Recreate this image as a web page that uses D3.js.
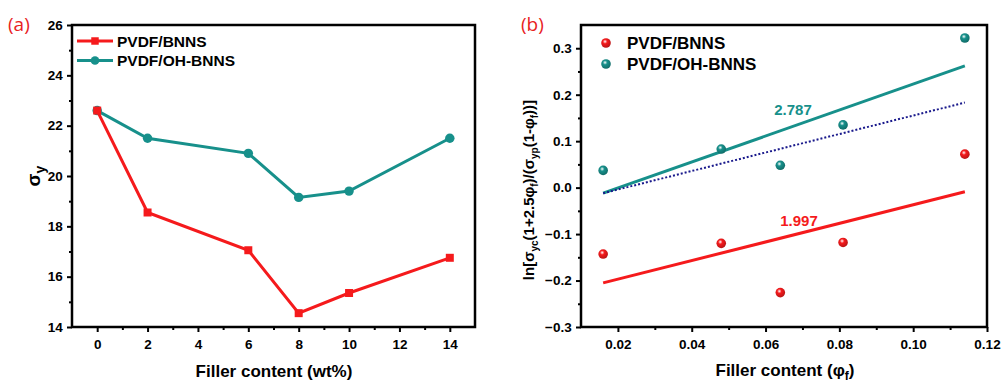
<!DOCTYPE html>
<html>
<head>
<meta charset="utf-8">
<script src="https://cdn.jsdelivr.net/npm/d3@7"></script>
<style>
  body { margin: 0; background: #fff; }
  svg text { font-family: "Liberation Sans", Arial, sans-serif; font-weight: bold; }
  svg text.tag { font-family: "Open Sans", sans-serif; font-weight: normal; }
</style>
</head>
<body>
<svg id="chart" width="1003" height="383"></svg>
<script>
// panel (a) data
var wtContent = [0, 2, 6, 8, 10, 14];
var sigmaBNNS = [22.6, 18.55, 17.05, 14.55, 15.35, 16.75];
var sigmaOH = [22.6, 21.5, 20.9, 19.15, 19.4, 21.5];
var xTicksA = [0, 2, 4, 6, 8, 10, 12, 14];
var yTicksA = [14, 16, 18, 20, 22, 24, 26];

// panel (b) data
var phiF = [0.016, 0.048, 0.064, 0.081, 0.114];
var lnBNNS = [-0.143, -0.120, -0.226, -0.118, 0.072];
var lnOH = [0.037, 0.083, 0.048, 0.135, 0.322];
var fitX = [0.016, 0.114];
var fitBNNS = [-0.205, -0.009];
var fitOH = [-0.012, 0.262];
var fitDotted = [-0.012, 0.183];
var xTicksB = [0.02, 0.04, 0.06, 0.08, 0.10, 0.12];
var yTicksB = [-0.3, -0.2, -0.1, 0.0, 0.1, 0.2, 0.3];

var red = '#f51a1c', teal = '#17908b', navy = '#1a1a8c';
var svg = d3.select('#chart');

var defs = svg.append('defs');
function ballGrad(id, c) {
    var g = defs.append('radialGradient').attr('id', id)
        .attr('cx', '40%').attr('cy', '35%').attr('r', '65%');
    g.append('stop').attr('offset', '0%').attr('stop-color', '#fff');
    g.append('stop').attr('offset', '35%').attr('stop-color', c);
    g.append('stop').attr('offset', '100%').attr('stop-color', d3.color(c).darker(0.8));
}
ballGrad('ballRed', red);
ballGrad('ballTeal', teal);

function frame(g, x0, x1, y0, y1) {
    g.append('rect').attr('x', x0).attr('y', y0)
        .attr('width', x1 - x0).attr('height', y1 - y0)
        .attr('fill', 'none').attr('stroke', '#000').attr('stroke-width', 2.5);
}

function axes(g, x, y, xt, yt, xMinor, yMinor, xFmt, yFmt) {
    var h = y.range()[0];
    var xa = g.append('g').attr('transform', 'translate(0,' + h + ')')
        .call(d3.axisBottom(x).tickValues(xt).tickSize(5).tickFormat(xFmt));
    g.append('g').attr('transform', 'translate(0,' + h + ')')
        .call(d3.axisBottom(x).tickValues(xMinor).tickSize(3).tickFormat(''));
    var ya = g.append('g').attr('transform', 'translate(' + x.range()[0] + ',0)')
        .call(d3.axisLeft(y).tickValues(yt).tickSize(5).tickFormat(yFmt));
    g.append('g').attr('transform', 'translate(' + x.range()[0] + ',0)')
        .call(d3.axisLeft(y).tickValues(yMinor).tickSize(3).tickFormat(''));
    g.selectAll('.domain').remove();
    g.selectAll('.tick line').attr('stroke', '#000').attr('stroke-width', 2);
    g.selectAll('.tick text').attr('font-size', 13.5).attr('fill', '#000')
        .attr('font-family', '"Liberation Sans", Arial, sans-serif');
    xa.selectAll('.tick text').attr('dy', '1.05em');
    ya.selectAll('.tick text').attr('dx', '-0.1em');
}

// ---------- panel (a)
var ga = svg.append('g');
var xA = d3.scaleLinear().domain([-1, 15]).range([72, 475]);
var yA = d3.scaleLinear().domain([14, 26]).range([327, 25]);
axes(ga, xA, yA, xTicksA, yTicksA,
    d3.range(1, 15, 2), d3.range(15, 26, 2),
    d3.format('d'), d3.format('d'));

var lineA = d3.line().x(function (d) { return xA(d[0]); }).y(function (d) { return yA(d[1]); });
var seriesA = [
    { name: 'PVDF/BNNS', vals: sigmaBNNS, color: red, shape: 'square' },
    { name: 'PVDF/OH-BNNS', vals: sigmaOH, color: teal, shape: 'circle' }
];
// draw OH first so red sits on top at the shared start
seriesA.slice().reverse().forEach(function (s) {
    var pts = d3.zip(wtContent, s.vals);
    ga.append('path').attr('d', lineA(pts)).attr('fill', 'none')
        .attr('stroke', s.color).attr('stroke-width', 3);
    ga.selectAll(null).data(pts).enter().append('path')
        .attr('transform', function (d) { return 'translate(' + xA(d[0]) + ',' + yA(d[1]) + ')'; })
        .attr('d', d3.symbol().type(s.shape === 'square' ? d3.symbolSquare : d3.symbolCircle).size(s.shape === 'square' ? 64 : 70))
        .attr('fill', s.color);
});
frame(ga, 72, 475, 25, 327);

seriesA.forEach(function (s, i) {
    var ly = 41 + i * 19.5;
    ga.append('line').attr('x1', 77).attr('x2', 113).attr('y1', ly).attr('y2', ly)
        .attr('stroke', s.color).attr('stroke-width', 3);
    ga.append('path').attr('transform', 'translate(95,' + ly + ')')
        .attr('d', d3.symbol().type(s.shape === 'square' ? d3.symbolSquare : d3.symbolCircle).size(s.shape === 'square' ? 56 : 60))
        .attr('fill', s.color);
    ga.append('text').attr('x', 117).attr('y', ly + 5.5).attr('font-size', 15.5).text(s.name);
});

svg.append('text').attr('class', 'tag').attr('x', 8).attr('y', 31).attr('fill', '#e8231f')
    .attr('font-size', 19).text('(a)');

var yla = svg.append('text').attr('transform', 'translate(40,176) rotate(-90)')
    .attr('text-anchor', 'middle').attr('font-size', 19);
yla.append('tspan').text('σ');
yla.append('tspan').attr('font-size', 14).attr('dy', 5).text('y');

svg.append('text').attr('x', 274).attr('y', 377).attr('text-anchor', 'middle')
    .attr('font-size', 17).text('Filler content (wt%)');

// ---------- panel (b)
var gb = svg.append('g');
var xB = d3.scaleLinear().domain([0.01, 0.12]).range([581, 987]);
var yB = d3.scaleLinear().domain([-0.3, 0.35]).range([327, 25]);
axes(gb, xB, yB, xTicksB, yTicksB,
    d3.range(0.03, 0.12, 0.02), d3.range(-0.25, 0.35, 0.1),
    d3.format('.2f'), d3.format('.1f'));

var fits = [
    { x: fitX, y: fitOH, color: teal, dash: null, w: 3 },
    { x: fitX, y: fitDotted, color: navy, dash: '2,2', w: 2 },
    { x: fitX, y: fitBNNS, color: red, dash: null, w: 3 }
];
var lineB = d3.line().x(function (d) { return xB(d[0]); }).y(function (d) { return yB(d[1]); });
fits.forEach(function (f) {
    gb.append('path').attr('d', lineB(d3.zip(f.x, f.y))).attr('fill', 'none')
        .attr('stroke', f.color).attr('stroke-width', f.w)
        .attr('stroke-dasharray', f.dash);
});

var seriesB = [
    { name: 'PVDF/BNNS', vals: lnBNNS, grad: 'url(#ballRed)' },
    { name: 'PVDF/OH-BNNS', vals: lnOH, grad: 'url(#ballTeal)' }
];
seriesB.forEach(function (s, i) {
    gb.selectAll(null).data(d3.zip(phiF, s.vals)).enter().append('circle')
        .attr('cx', function (d) { return xB(d[0]); })
        .attr('cy', function (d) { return yB(d[1]); })
        .attr('r', 4.8).attr('fill', s.grad);
    var ly = 43 + i * 21;
    gb.append('circle').attr('cx', 606).attr('cy', ly).attr('r', 4.8).attr('fill', s.grad);
    gb.append('text').attr('x', 627).attr('y', ly + 6).attr('font-size', 17).text(s.name);
});
frame(gb, 581, 987, 25, 327);

gb.append('text').attr('x', 793).attr('y', 115).attr('text-anchor', 'middle')
    .attr('fill', teal).attr('font-size', 15).text('2.787');
gb.append('text').attr('x', 799).attr('y', 226).attr('text-anchor', 'middle')
    .attr('fill', red).attr('font-size', 15).text('1.997');

svg.append('text').attr('class', 'tag').attr('x', 521).attr('y', 31).attr('fill', '#e8231f')
    .attr('font-size', 19).text('(b)');

var ylb = svg.append('text').attr('transform', 'translate(534,190) rotate(-90)')
    .attr('text-anchor', 'middle').attr('font-size', 15);
ylb.append('tspan').text('ln[σ');
ylb.append('tspan').attr('font-size', 10).attr('dy', 4).text('yc');
ylb.append('tspan').attr('dy', -4).text('(1+2.5φ');
ylb.append('tspan').attr('font-size', 10).attr('dy', 4).text('f');
ylb.append('tspan').attr('dy', -4).text(')/(σ');
ylb.append('tspan').attr('font-size', 10).attr('dy', 4).text('yp');
ylb.append('tspan').attr('dy', -4).text('(1-φ');
ylb.append('tspan').attr('font-size', 10).attr('dy', 4).text('f');
ylb.append('tspan').attr('dy', -4).text('))]');

var xlb = svg.append('text').attr('x', 785).attr('y', 376).attr('text-anchor', 'middle')
    .attr('font-size', 17);
xlb.append('tspan').text('Filler content (φ');
xlb.append('tspan').attr('font-size', 12).attr('dy', 4).text('f');
xlb.append('tspan').attr('dy', -4).text(')');
</script>
</body>
</html>
